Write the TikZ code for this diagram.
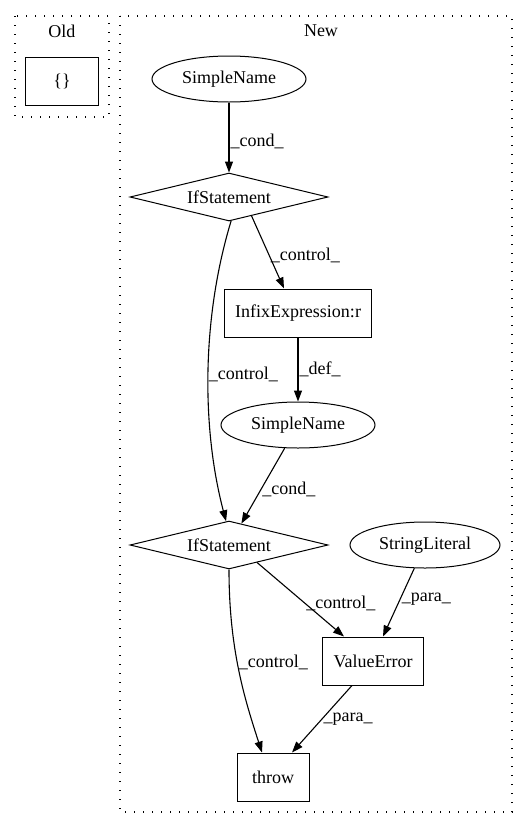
\documentclass[tikz,border=0pt]{standalone}
\usepackage{fontspec}
\setmainfont{Liberation Serif}
\usetikzlibrary{arrows.meta,shapes.geometric}

\tikzset{
  ast/.style={draw=black, line width=1pt, font=\fontsize{18}{21}\selectfont},
  stmt/.style={ast, rectangle, minimum width=#1, minimum height=48pt, inner sep=0pt},
  expr/.style={ast, ellipse, minimum width=#1, minimum height=46pt, inner sep=0pt},
  cnd/.style={ast, diamond, aspect=4.1, minimum width=198pt, minimum height=48pt, inner sep=0pt},
  cluster/.style={draw=black, line width=1.3pt, dash pattern=on 1.3pt off 7.7pt},
  flow/.style={line width=1.1pt, -{Triangle[length=11pt,width=8pt]}},
  lbl/.style={font=\fontsize{18}{21}\selectfont, inner sep=1pt}
}

\begin{document}
\begin{tikzpicture}[x=1pt, y=-1pt]
             \useasboundingbox (0,0) rectangle (527,828);

             % clusters
             \draw[cluster] (15,16) rectangle (109,117);
             \node[lbl] (oldtitle) at (62,31) {Old};
             \draw[cluster] (120,16) rectangle (512,812);
             \node[lbl] (newtitle) at (321,31) {New};

             \node[stmt=73pt] (braces) at (62,81) {\{\}};

             \node[expr=154pt] (name1) at (229,79) {SimpleName};
             \node[cnd] (if1) at (229,197) {IfStatement};
             \node[stmt=147pt] (infix) at (298,313) {InfixExpression:r};
             \node[expr=154pt] (name2) at (298,425) {SimpleName};
             \node[cnd] (if2) at (229,545) {IfStatement};
             \node[expr=150pt] (strlit) at (425,545) {StringLiteral};
             \node[stmt=101pt] (valerr) at (373,661) {ValueError};
             \node[stmt=72pt] (throw) at (273,777) {throw};

             \draw[flow] (name1) -- node[lbl, right, pos=.55] {\_cond\_} (if1);
             \draw[flow] (if1.-40) -- node[lbl, right, pos=.55] {\_control\_} (infix.north west -| 284,0);
             \draw[flow] (if1.-85) .. controls (201,320) and (202,430) .. node[lbl, right, pos=.5, inner sep=0pt] {\_control\_} (if2.97);
             \draw[flow] (infix) -- node[lbl, right, pos=.5] {\_def\_} (name2);
             \draw[flow] (name2) -- node[lbl, right, pos=.55] {\_cond\_} (if2.60);
             \draw[flow] (if2.-32) -- node[lbl, right, pos=.55] {\_control\_} (valerr.north -| 344,0);
             \draw[flow] (strlit) -- node[lbl, right, pos=.45] {\_para\_} (valerr.north -| 383,0);
             \draw[flow] (if2.south) .. controls (229,650) and (245,700) .. node[lbl, right, pos=.45] {\_control\_} (throw.north -| 262,0);
             \draw[flow] (valerr.south -| 352,0) -- node[lbl, right, pos=.5] {\_para\_} (throw.north -| 292,0);
             \end{tikzpicture}
\end{document}
